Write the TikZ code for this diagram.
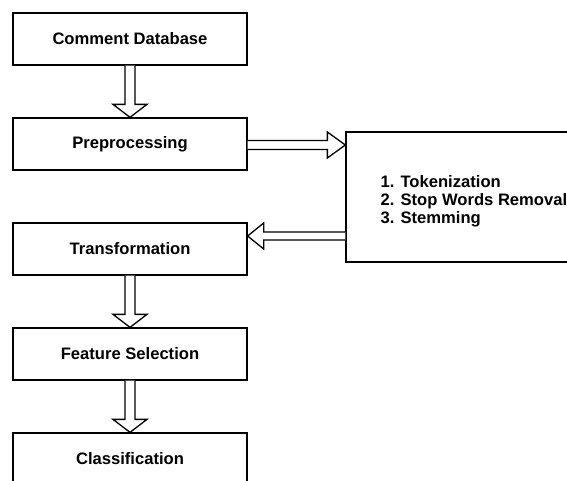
\documentclass[tikz,border=0pt]{standalone}
\usepackage{fontspec}
\setmainfont{Liberation Sans}
\usetikzlibrary{calc}
\tikzset{
  procbox/.style={draw=black, line width=1.3pt, minimum width=234pt, minimum height=52pt, inner sep=0pt,
    font=\fontsize{16.6}{18}\selectfont\bfseries},
  blk/.style={draw=black, line width=1.3pt, fill=white, line join=miter},
  steptext/.style={align=left, inner sep=0pt, font=\fontsize{16.6}{18.2}\selectfont\bfseries}
}
\newcommand{\vblk}[2]{%
  \draw[blk] ($(#1.south)+(-5,0)$) -- ($(#2.north)+(-5,-13)$) -- ++(-12,0) -- (#2.north)
    -- ($(#2.north)+(17,-13)$) -- ++(-12,0) -- ($(#1.south)+(5,0)$);}
\begin{document}
\begin{tikzpicture}[x=1pt, y=-1pt]
\useasboundingbox (0,0) rectangle (567,480);
\clip (0,0) rectangle (567,480);
\node[procbox] (b1) at (130,39) {Comment Database};
\node[procbox] (b2) at (130,144) {Preprocessing};
\node[procbox] (b3) at (130,249) {Transformation};
\node[procbox] (b4) at (130,354) {Feature Selection};
\node[procbox] (b5) at (130,459) {Classification};
\node[draw=black, line width=1.3pt, minimum width=234pt, minimum height=130pt, inner sep=0pt] (tb) at (463,197) {};
\node[steptext, anchor=west] (steps) at ($(tb.west)+(35,4)$) {1. Tokenization\\2. Stop Words Removal\\3. Stemming};
\vblk{b1}{b2}
\vblk{b3}{b4}
\vblk{b4}{b5}
% right arrow
\coordinate (ra) at ($(b2.east)+(0,1)$);
\coordinate (rt) at (tb.west |- ra);
\draw[blk] ($(ra)+(0,-4.5)$) -- ($(rt)+(-18,-4.5)$) -- ($(rt)+(-18,-13)$) -- (rt)
  -- ($(rt)+(-18,13)$) -- ($(rt)+(-18,4.5)$) -- ($(ra)+(0,4.5)$);
% left arrow
\coordinate (la) at ($(tb.west)+(0,39)$);
\coordinate (lt) at (b3.east |- la);
\draw[blk] ($(la)+(0,-4)$) -- ($(lt)+(16,-4)$) -- ($(lt)+(16,-13)$) -- (lt)
  -- ($(lt)+(16,13)$) -- ($(lt)+(16,4)$) -- ($(la)+(0,4)$);
\end{tikzpicture}
\end{document}
